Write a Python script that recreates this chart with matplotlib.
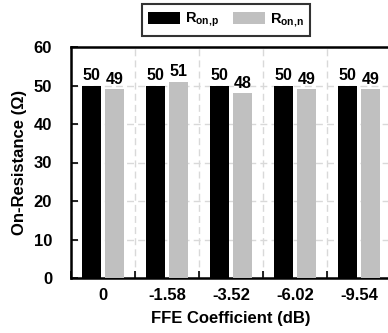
import matplotlib.pyplot as plt
import numpy as np

plt.rcParams['font.family'] = ['Liberation Sans', 'DejaVu Sans']
plt.rcParams['font.weight'] = 'bold'
plt.rcParams['mathtext.fontset'] = 'custom'
plt.rcParams['mathtext.rm'] = 'Liberation Sans:bold'
plt.rcParams['mathtext.bf'] = 'Liberation Sans:bold'

# Data
coefficients = ['0', '-1.58', '-3.52', '-6.02', '-9.54']
ron_p = [50, 50, 50, 50, 50]
ron_n = [49, 51, 48, 49, 49]

fig = plt.figure(figsize=(3.88, 3.33), dpi=100)
ax = fig.add_axes([71 / 388, 55 / 333, 320 / 388, 231 / 333])

x = np.arange(len(coefficients))
w = 0.3
b1 = ax.bar(x - 0.18, ron_p, w, color='black', label=r'$\mathregular{R_{on{,}p}}$', zorder=3)
b2 = ax.bar(x + 0.18, ron_n, w, color='#c0c0c0', label=r'$\mathregular{R_{on{,}n}}$', zorder=3)

# value labels on top of the bars
for bars in (b1, b2):
    for r in bars:
        ax.text(r.get_x() + r.get_width() / 2, r.get_height() + 0.6, '%d' % r.get_height(),
                ha='center', va='bottom', fontsize=11.5, fontweight='bold')

ax.set_xlim(-0.5, 4.5)
ax.set_ylim(0, 60)
ax.set_yticks(range(0, 61, 10))
ax.set_xticks(x)
ax.set_xticklabels(coefficients)
ax.set_xticks(np.arange(-0.5, 4.6, 1), minor=True)
ax.tick_params(axis='x', which='major', length=0, labelsize=12, pad=7)
ax.tick_params(axis='x', which='minor', direction='in', length=5, width=1.2)
ax.tick_params(axis='y', direction='in', length=5, width=1.2, labelsize=12, pad=13.5)

ax.grid(True, axis='y', linestyle=(0, (5, 3)), color='#d9d9d9', linewidth=1, zorder=0)
ax.grid(True, axis='x', which='minor', linestyle=(0, (5, 3)), color='#d9d9d9', linewidth=1, zorder=0)

for s in ax.spines.values():
    s.set_linewidth(1.8)

ax.set_xlabel('FFE Coefficient (dB)', fontsize=12, fontweight='bold', labelpad=6)
ax.set_ylabel('On-Resistance (Ω)', fontsize=12, fontweight='bold', labelpad=5)

leg = fig.legend(loc='center', bbox_to_anchor=(226 / 388, 1 - 20 / 333), ncol=2,
                 fancybox=False, edgecolor='black', fontsize=10.5,
                 handlelength=2.2, handleheight=0.85, columnspacing=1.0,
                 handletextpad=0.3, borderpad=0.45, borderaxespad=0)
leg.get_frame().set_linewidth(1.5)

fig.savefig('out.png', dpi=100)
